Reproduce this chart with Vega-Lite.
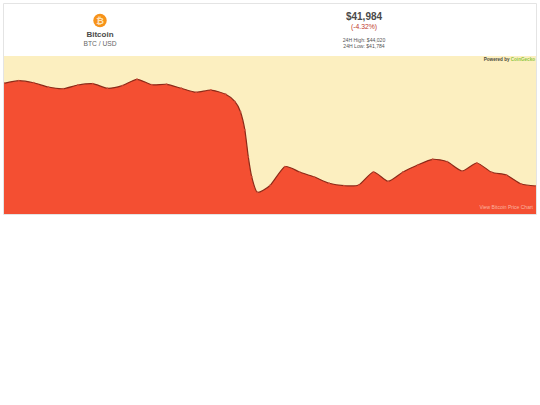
{
"$schema":"https://vega.github.io/schema/vega-lite/v6.json",
"width":532,"height":158,
"padding":{"left":4,"top":56,"right":4,"bottom":191},
"autosize":"none",
"background":"white",
"view":{"fill":"#fcefc0","stroke":null},
"data":{"values":[
{"t":0,"price":43978},{"t":1,"price":44029},{"t":2,"price":43989},{"t":3,"price":43905},{"t":4,"price":43872},{"t":5,"price":43944},{"t":6,"price":43970},{"t":7,"price":43880},{"t":8,"price":43931},{"t":9,"price":44056},{"t":10,"price":43950},{"t":11,"price":43958},{"t":12,"price":43880},{"t":13,"price":43801},{"t":14,"price":43846},{"t":15,"price":43762},{"t":15.63,"price":43617},{"t":16,"price":43421},{"t":16.3,"price":43062},{"t":16.53,"price":42539},{"t":16.76,"price":42147},{"t":17.14,"price":41841},{"t":18,"price":41975},{"t":19,"price":42343},{"t":20,"price":42239},{"t":21,"price":42141},{"t":22,"price":42018},{"t":23,"price":41971},{"t":24,"price":41984},{"t":25,"price":42239},{"t":26,"price":42057},{"t":27,"price":42239},{"t":28,"price":42376},{"t":29,"price":42488},{"t":30,"price":42441},{"t":31,"price":42259},{"t":32,"price":42416},{"t":33,"price":42233},{"t":34,"price":42180},{"t":35,"price":42004},{"t":36,"price":41965}
]},
"encoding":{
"x":{"field":"t","type":"quantitative","scale":{"domain":[0,36],"nice":false,"zero":false},"axis":null},
"y":{"field":"price","type":"quantitative","scale":{"domain":[41416,44513],"nice":false,"zero":false},"axis":null}
},
"layer":[
{"mark":{"type":"area","interpolate":"cardinal","tension":0.35,"color":"#f44f32","opacity":1},"encoding":{"y2":{"datum":41416}}},
{"mark":{"type":"line","interpolate":"cardinal","tension":0.35,"color":"#8c2a18","strokeWidth":1.2}},
{"mark":{"type":"point","filled":true,"size":4,"color":"#d8543e","opacity":0.8}},
{"data":{"values":[{"a":0}]},"mark":{"type":"rect","fill":null,"stroke":"#e4e4e4","strokeWidth":1,"clip":false},"encoding":{"x":{"value":-0.5},"y":{"value":-52.5},"x2":{"value":532.5},"y2":{"value":158.5}}},
{"data":{"values":[{"a":0}]},"mark":{"type":"point","filled":true,"size":180,"color":"#f7931a","opacity":1},"encoding":{"x":{"value":96},"y":{"value":-35.5}}},
{"data":{"values":[
{"label":"₿","px":96,"py":-35.5,"size":9.5,"color":"#fce3bd"},
{"label":"Bitcoin","px":96,"py":-21.5,"size":8,"color":"#4a4a4a"},
{"label":"$41,984","px":360,"py":-39.5,"size":10,"color":"#4a4a4a"}
]},
"mark":{"type":"text","font":"Liberation Sans","fontWeight":"bold","align":"center","baseline":"middle"},
"encoding":{"x":{"field":"px","type":"quantitative","scale":null},"y":{"field":"py","type":"quantitative","scale":null},"text":{"field":"label"},"size":{"field":"size","type":"quantitative","scale":null},"color":{"field":"color","scale":null}}},
{"data":{"values":[
{"label":"Powered by","px":505.5,"py":4,"size":4.6,"color":"#4a4a3a"},
{"label":"CoinGecko","px":531,"py":4,"size":4.6,"color":"#8dc63f"}
]},
"mark":{"type":"text","font":"Liberation Sans","fontWeight":"bold","align":"right","baseline":"middle"},
"encoding":{"x":{"field":"px","type":"quantitative","scale":null},"y":{"field":"py","type":"quantitative","scale":null},"text":{"field":"label"},"size":{"field":"size","type":"quantitative","scale":null},"color":{"field":"color","scale":null}}},
{"data":{"values":[
{"label":"BTC / USD","px":96,"py":-12,"size":6.7,"color":"#666666"},
{"label":"(-4.32%)","px":360,"py":-29,"size":6.8,"color":"#c0392b"},
{"label":"24H High: $44,020","px":360,"py":-16,"size":5.1,"color":"#555555"},
{"label":"24H Low: $41,784","px":360,"py":-10,"size":5.1,"color":"#555555"},
{"label":"View Bitcoin Price Chart","px":502.2,"py":151,"size":5,"color":"#fbb4a0"}
]},
"mark":{"type":"text","font":"Liberation Sans","align":"center","baseline":"middle"},
"encoding":{"x":{"field":"px","type":"quantitative","scale":null},"y":{"field":"py","type":"quantitative","scale":null},"text":{"field":"label"},"size":{"field":"size","type":"quantitative","scale":null},"color":{"field":"color","scale":null}}}
]
}
